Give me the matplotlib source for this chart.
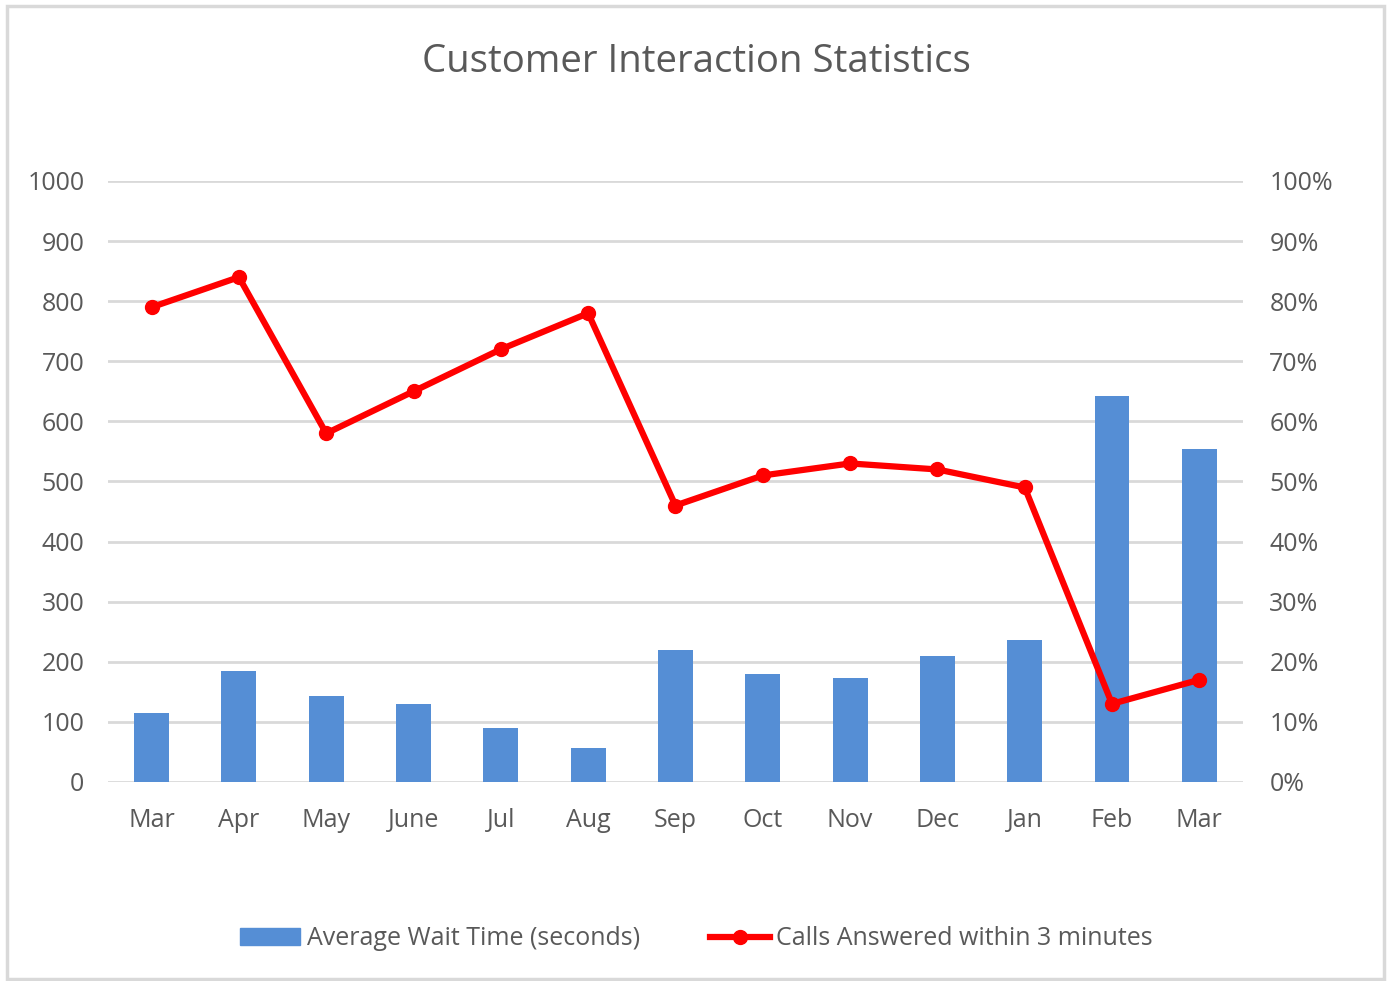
import matplotlib.pyplot as plt
from matplotlib.patches import Rectangle
from matplotlib.lines import Line2D
import numpy as np

plt.rcParams['font.family'] = ['Open Sans', 'DejaVu Sans']

# Monthly figures
months = ['Mar', 'Apr', 'May', 'June', 'Jul', 'Aug', 'Sep', 'Oct', 'Nov', 'Dec', 'Jan', 'Feb', 'Mar']
wait_time = [115, 185, 143, 130, 90, 57, 220, 180, 173, 210, 236, 642, 554]
answered_pct = [79, 84, 58, 65, 72, 78, 46, 51, 53, 52, 49, 13, 17]

left_ticks = [0, 100, 200, 300, 400, 500, 600, 700, 800, 900, 1000]
right_ticks = [0, 10, 20, 30, 40, 50, 60, 70, 80, 90, 100]

text_color = '#595959'
grid_color = '#d9d9d9'
bar_color = '#558ed5'
line_color = '#ff0000'

fig = plt.figure(figsize=(13.93, 9.81), dpi=100)
ax = fig.add_axes([0.0775, 0.2029, 0.8148, 0.6126])
ax2 = ax.twinx()

x = np.arange(len(months))
ax.bar(x, wait_time, width=0.4, color=bar_color, zorder=2)
ax2.plot(x, answered_pct, color=line_color, linewidth=4.5, marker='o',
         markersize=10, zorder=3, solid_capstyle='round')

ax.set_xlim(-0.5, len(months) - 0.5)
ax.set_ylim(0, 1000)
ax2.set_ylim(0, 100)
ax.set_yticks(left_ticks)
ax2.set_yticks(right_ticks)
ax2.set_yticklabels([f'{t}%' for t in right_ticks])
ax.set_xticks(x)
ax.set_xticklabels(months)

for t in left_ticks:
    ax.axhline(t, color=grid_color, linewidth=2, zorder=1)

for a in (ax, ax2):
    for s in a.spines.values():
        s.set_visible(False)
    a.tick_params(length=0, labelsize=18, labelcolor=text_color)
ax.tick_params(axis='y', pad=17)
ax2.tick_params(axis='y', pad=19)
ax.tick_params(axis='x', pad=19)

fig.text(0.5, 0.937, 'Customer Interaction Statistics', ha='center', va='center',
         fontsize=27.6, color=text_color)

handles = [Rectangle((0, 0), 1, 1, color=bar_color),
           Line2D([], [], color=line_color, linewidth=4.5, marker='o', markersize=10)]
fig.legend(handles, ['Average Wait Time (seconds)', 'Calls Answered within 3 minutes'],
           loc='center', bbox_to_anchor=(0.5, 0.043), ncol=2, frameon=False,
           fontsize=18, labelcolor=text_color, handlelength=2.4, handletextpad=0.25,
           columnspacing=2.8)

# chart border
fig.add_artist(Rectangle((0.0047, 0.002), 0.989, 0.992, transform=fig.transFigure,
                         fill=False, edgecolor=grid_color, linewidth=2.5))

fig.savefig('out.png', dpi=100)
